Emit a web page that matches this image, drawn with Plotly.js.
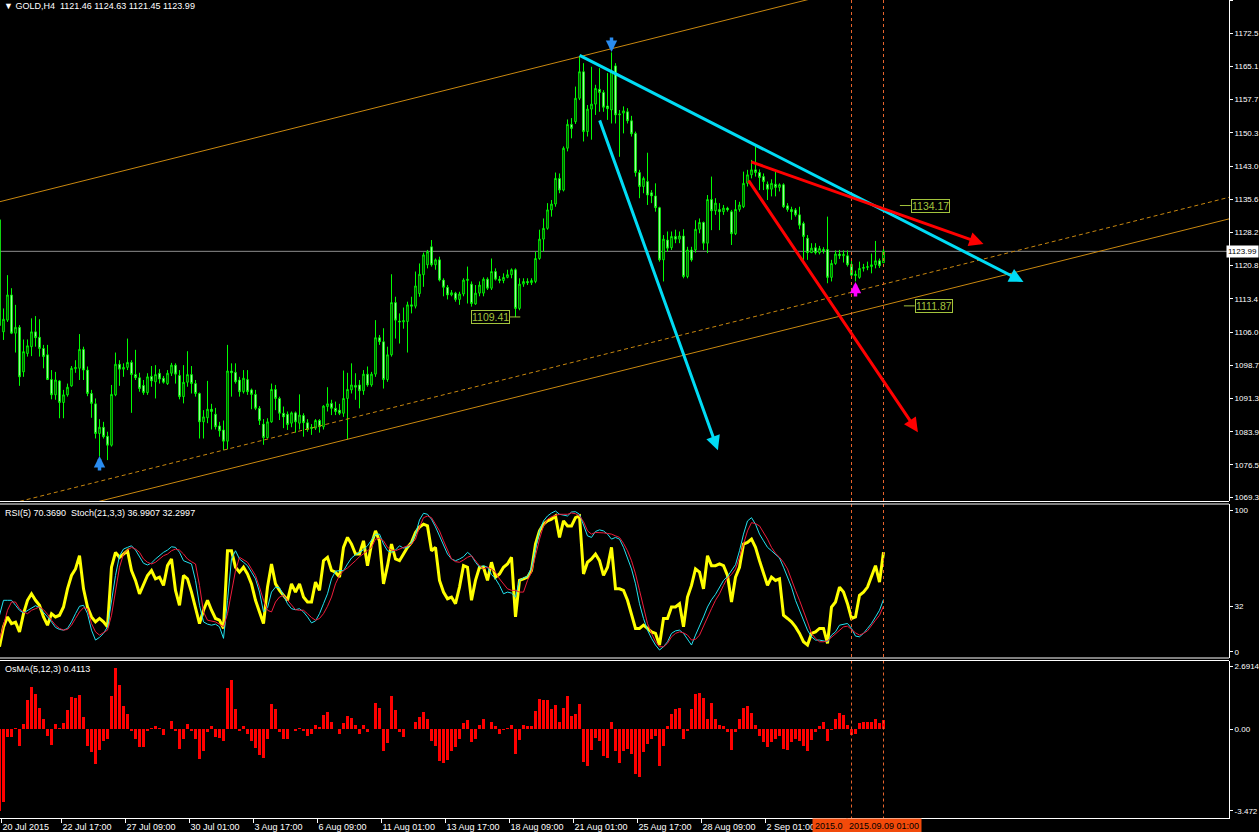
<!DOCTYPE html>
<html><head><meta charset="utf-8">
<script src="https://cdn.plot.ly/plotly-3.0.1.min.js"></script>
<style>html,body{margin:0;padding:0;background:#000;overflow:hidden}#chart{width:1259px;height:832px}</style>
</head><body><div id="chart"></div>
<script>
// ---------------- DATA ----------------
const open = [
1131.0,1106.1,1108.7,1114.3,1105.8,1107.1,1097.2,1101.3,1102.8,1106.1,
1104.9,1102.4,1101.0,1095.5,1092.1,1095.2,1090.4,1092.1,1094.1,1097.9,
1098.0,1102.2,1097.6,1092.4,1090.1,1083.5,1084.9,1082.9,1080.9,1092.1,
1098.9,1097.8,1098.2,1099.3,1096.6,1095.9,1094.2,1092.6,1096.2,1095.0,
1096.9,1095.8,1094.6,1096.9,1098.7,1096.4,1091.7,1094.9,1096.6,1094.6,
1092.4,1086.1,1087.0,1088.9,1087.8,1085.2,1084.3,1081.8,1097.4,1097.1,
1095.4,1092.8,1095.5,1093.2,1092.2,1089.1,1085.6,1082.6,1086.1,1093.3,
1091.3,1088.0,1087.8,1085.8,1088.1,1085.8,1087.5,1085.9,1084.6,1084.7,
1086.4,1085.0,1089.5,1090.2,1089.1,1088.7,1088.0,1091.3,1093.2,1094.2,
1094.3,1093.0,1096.7,1094.3,1096.7,1104.8,1103.9,1095.5,1101.0,1112.6,
1108.5,1108.3,1108.4,1112.1,1111.8,1114.6,1118.8,1121.0,1125.0,1121.0,
1122.1,1117.6,1116.0,1114.3,1114.7,1113.3,1114.5,1117.5,1116.7,1112.3,
1114.7,1114.7,1117.8,1115.8,1119.5,1117.8,1117.5,1118.2,1118.8,1119.9,
1111.3,1116.7,1117.3,1117.0,1117.3,1122.4,1126.7,1129.1,1133.2,1134.5,
1140.2,1137.6,1146.9,1152.2,1152.8,1158.0,1163.9,1150.6,1155.6,1156.7,
1160.0,1159.3,1156.3,1155.4,1165.2,1154.3,1154.7,1155.0,1153.0,1150.2,
1141.5,1138.4,1139.5,1137.0,1136.3,1133.7,1122.1,1126.5,1124.8,1127.3,
1126.7,1127.4,1118.4,1124.3,1124.3,1128.9,1130.4,1125.8,1135.5,1133.0,
1133.3,1132.8,1133.6,1132.8,1127.9,1133.3,1133.9,1139.1,1141.0,1142.1,
1141.5,1140.6,1138.9,1137.8,1138.9,1138.2,1138.8,1134.1,1133.3,1133.2,
1132.1,1130.2,1126.9,1123.7,1124.8,1123.7,1124.4,1124.4,1118.2,1121.3,
1123.4,1123.0,1123.0,1121.1,1118.6,1118.2,1120.2,1120.4,1120.6,1121.0,
1121.9,1121.46];
const high = [
1134.0,1111.3,1118.7,1115.8,1112.1,1107.6,1104.4,1104.4,1109.1,1109.6,
1108.9,1103.2,1103.2,1097.6,1097.2,1095.4,1093.2,1094.6,1098.5,1099.8,
1105.6,1102.8,1098.4,1093.2,1091.3,1086.7,1086.1,1083.9,1094.3,1101.5,
1099.8,1099.1,1104.6,1099.8,1102.1,1097.0,1095.4,1096.9,1098.5,1098.7,
1097.8,1096.3,1097.6,1099.2,1099.1,1097.6,1098.7,1101.8,1098.5,1095.4,
1092.6,1088.7,1095.2,1090.1,1089.2,1086.1,1086.4,1103.2,1099.1,1099.1,
1096.1,1097.6,1097.6,1093.5,1093.2,1089.6,1086.7,1086.9,1094.6,1094.3,
1091.7,1089.5,1088.4,1088.4,1088.4,1092.2,1088.0,1086.7,1085.6,1086.7,
1086.7,1089.8,1093.8,1091.0,1090.6,1090.1,1097.5,1097.0,1099.1,1096.9,
1095.4,1097.6,1098.4,1097.2,1108.7,1105.4,1106.9,1102.8,1118.9,1113.9,
1110.2,1111.5,1112.8,1113.9,1119.5,1121.3,1123.7,1124.3,1126.5,1122.4,
1122.8,1118.0,1116.5,1115.4,1115.0,1115.0,1118.0,1120.6,1117.3,1116.5,
1117.3,1118.2,1118.2,1122.4,1120.2,1118.5,1119.1,1119.9,1120.2,1120.2,
1118.0,1118.0,1118.0,1118.0,1123.9,1128.8,1131.3,1134.7,1135.4,1141.5,
1141.3,1147.3,1153.3,1153.6,1160.6,1167.4,1165.8,1156.5,1165.0,1161.0,
1164.7,1159.8,1163.6,1168.2,1165.8,1155.4,1156.2,1155.8,1154.1,1150.6,
1142.1,1140.6,1145.9,1137.6,1139.1,1133.9,1127.6,1128.4,1128.4,1128.8,
1128.4,1128.9,1125.0,1125.0,1130.9,1131.3,1130.6,1136.5,1140.6,1135.8,
1134.7,1134.3,1133.9,1133.2,1135.4,1135.0,1141.7,1142.1,1144.3,1147.3,
1142.2,1141.3,1139.5,1140.0,1141.7,1139.1,1139.1,1134.7,1133.9,1133.6,
1133.9,1130.6,1127.6,1125.8,1125.8,1125.2,1124.9,1131.7,1122.1,1124.2,
1124.3,1124.2,1124.2,1121.9,1119.7,1121.7,1121.2,1121.7,1123.5,1126.3,
1122.4,1124.63];
const low = [
1105.5,1104.3,1108.3,1105.6,1101.5,1094.1,1096.1,1100.6,1100.7,1102.8,
1100.6,1098.0,1095.4,1091.1,1091.0,1086.9,1086.9,1091.7,1093.9,1097.0,
1095.4,1095.4,1091.8,1087.0,1082.4,1078.4,1082.4,1077.6,1080.6,1091.8,
1094.1,1096.1,1097.6,1088.1,1095.4,1092.8,1092.1,1092.1,1093.9,1091.3,
1094.6,1094.6,1094.3,1096.3,1094.6,1091.1,1090.2,1093.9,1092.4,1091.7,
1082.4,1082.4,1085.8,1084.4,1084.4,1082.8,1079.8,1080.0,1091.7,1094.6,
1091.7,1092.4,1092.1,1088.9,1088.7,1085.4,1081.0,1082.4,1085.9,1088.7,
1086.5,1084.7,1084.3,1084.9,1083.7,1084.4,1082.8,1083.9,1083.2,1084.3,
1083.7,1084.4,1088.4,1087.6,1087.6,1087.6,1087.2,1082.2,1092.4,1091.0,
1089.1,1092.1,1093.9,1093.9,1096.1,1103.2,1093.5,1095.0,1100.6,1104.6,
1103.5,1106.8,1101.5,1110.2,1111.3,1113.9,1116.1,1120.2,1120.6,1119.9,
1117.3,1114.0,1113.3,1114.0,1112.8,1112.1,1114.0,1112.4,1111.7,1112.1,
1114.0,1114.0,1115.4,1115.4,1117.5,1116.9,1116.9,1118.0,1118.0,1109.4,
1110.9,1116.1,1116.5,1116.5,1116.9,1122.1,1123.9,1128.8,1131.7,1133.9,
1136.9,1137.3,1146.2,1149.1,1152.3,1157.6,1148.4,1149.5,1148.8,1154.3,
1155.0,1155.0,1153.2,1152.4,1152.4,1145.0,1150.2,1152.4,1149.5,1140.6,
1135.8,1136.9,1134.3,1134.7,1132.8,1121.7,1117.3,1123.9,1124.3,1125.8,
1125.8,1118.0,1118.0,1121.7,1123.7,1128.0,1124.3,1123.6,1128.7,1132.1,
1128.7,1132.1,1132.8,1125.4,1127.6,1132.8,1133.6,1138.4,1140.2,1140.6,
1137.6,1137.6,1135.4,1136.2,1136.2,1137.3,1133.6,1132.8,1131.0,1131.7,
1128.9,1122.1,1122.1,1123.6,1123.3,1123.3,1123.5,1116.9,1117.3,1121.0,
1122.3,1121.5,1120.6,1118.4,1117.3,1117.9,1119.5,1119.8,1119.1,1120.2,
1120.3,1121.45];
const close = [
1107.5,1108.9,1114.3,1105.8,1107.1,1096.1,1101.7,1103.0,1106.1,1104.8,
1102.4,1100.6,1095.5,1092.1,1095.4,1090.4,1092.1,1093.8,1098.0,1098.2,
1102.2,1097.6,1092.4,1090.2,1083.5,1084.9,1082.8,1080.9,1092.2,1098.9,
1097.8,1098.2,1099.3,1096.6,1095.9,1093.5,1092.6,1096.1,1095.2,1096.6,
1095.6,1094.9,1096.9,1098.7,1096.7,1091.7,1094.9,1096.6,1094.6,1092.4,
1086.1,1087.2,1088.9,1088.4,1085.0,1084.1,1081.8,1097.4,1097.0,1095.0,
1092.8,1095.8,1092.8,1092.2,1089.1,1086.4,1082.6,1086.1,1093.3,1091.3,
1088.0,1087.2,1085.5,1088.1,1086.1,1087.6,1085.9,1084.4,1084.9,1086.4,
1085.0,1089.6,1090.1,1089.1,1088.4,1088.0,1091.3,1093.3,1094.3,1093.8,
1093.0,1096.7,1094.3,1096.7,1104.8,1103.9,1095.5,1101.0,1112.6,1108.7,
1108.3,1108.6,1112.1,1111.8,1116.3,1118.9,1123.2,1123.9,1121.0,1122.1,
1117.6,1116.0,1114.3,1114.8,1113.3,1114.5,1117.6,1117.8,1112.4,1114.7,
1116.5,1117.8,1115.8,1119.5,1117.8,1117.5,1118.2,1118.8,1119.9,1111.3,
1116.7,1117.3,1117.0,1117.5,1122.4,1126.7,1129.1,1133.2,1134.5,1140.2,
1137.6,1146.9,1152.2,1151.3,1158.0,1163.9,1150.6,1155.6,1156.7,1160.2,
1159.3,1156.0,1155.7,1164.1,1154.3,1154.5,1155.2,1153.0,1150.1,1141.5,
1138.4,1140.2,1136.5,1136.3,1133.7,1122.1,1126.7,1124.7,1127.3,1126.7,
1127.4,1118.4,1124.3,1122.1,1128.9,1130.4,1125.8,1135.5,1133.0,1134.7,
1132.8,1133.6,1133.2,1127.9,1133.3,1134.3,1139.1,1141.0,1142.1,1141.5,
1140.4,1139.5,1137.8,1139.1,1138.2,1138.8,1133.9,1133.3,1132.8,1132.1,
1129.8,1127.3,1123.7,1124.7,1123.7,1124.6,1124.1,1118.2,1121.3,1123.4,
1123.0,1123.3,1121.0,1118.7,1118.9,1120.2,1120.4,1120.6,1121.0,1121.9,
1120.8,1123.99];

const rsi = [
3.7,17.7,24.7,20,21,14.2,27,36.4,41,36.4,
32.9,24.7,18.9,27,24.7,25.9,31.7,44.5,53.9,58.5,
67.8,44.5,31.7,24.7,21.2,23.6,21.2,17.7,59.7,70.2,
66.7,69,71.3,57.4,50.4,41,48,53.9,57.4,51.5,
52.7,46.9,60.8,65.5,43.4,32.9,53.9,51.5,42.2,31.7,
20,29.4,36.4,29.4,23.6,22.4,16.6,71.3,71.3,59.7,
56.2,59.7,55,48,36.4,28.2,20,45.7,62,48,
43.4,39.9,36.4,48,42.2,48,38.7,35.2,35.2,49.2,
43.4,64.3,66.7,57.4,56.2,52.7,73.7,80.7,76,69,
69,78.3,60.8,76,85.3,78.3,48,60.8,76,65.5,
64.3,69,73.7,77.2,84.2,88,90,88.8,71.3,73.7,
50.4,42.2,37.5,38.7,34,45.7,60.8,59.7,36.4,50.4,
59.7,59.7,50.4,63.2,52.7,55,59.7,62,66.7,24.7,
50.4,51.5,52.7,57.4,76,85.3,90,92.3,93.5,95.8,
80.7,92.3,88.8,88.8,94.6,95.8,55,63.2,65.5,69,
64.3,53.9,59.7,73.7,44.5,44.5,43.4,36.4,27,16.6,
16.6,18.9,16.6,14.2,13.1,4.9,23.6,23.6,31.7,31.7,
34,17.7,38.7,46.9,58.5,56.2,44.5,67.8,60.8,60.8,
62,60.8,53.9,35.2,52.7,59.7,76,77.2,79.5,73.7,
64.3,56.2,46.9,52.7,50.4,51.5,25.9,23.6,21.2,17.7,
13.1,7.2,4.9,13.1,14.2,16.6,16.6,6.1,31.7,35.2,
45.7,42.2,34,23.6,24.7,39.9,42.2,45.7,53.9,60.8,
49.2,70.369];

const stochMain = [
25.9,36.4,36.4,36.4,32.9,29.4,27.5,29.4,31.2,32.6,
31.2,28.2,24.7,21.2,17.3,15.9,15.4,16.6,21.2,27,
32.2,32.9,27,15.4,8.4,10.3,13.1,17.7,36.4,53.9,
67.8,72.5,73.7,74.8,71.8,66.7,62.5,61.3,62.7,65.5,
67.8,70.2,71.8,74.1,73.7,70.2,64.3,63.2,62,50.4,
32.9,21.2,19.6,18.9,19.6,17.7,9.6,36.4,65.5,71.3,
65.5,63.2,60.8,56.2,51.5,42.2,28.2,31.2,42.2,45.7,
45.2,39.9,34,30.5,29.8,30.5,28.2,24.7,20.5,21.9,
27,34,41,51.5,56.9,57.3,57.3,62,66.2,68.5,
70.2,72,74.8,78.8,83,83,76,71.3,70.2,71.8,
74.8,73.2,73.7,77.2,83,93,97.7,97,93.5,88.1,
81.8,74.8,69,65.5,64.3,65.5,67.1,70.2,67.8,63.2,
59.7,60.8,59.7,54.6,51.5,46.9,41,42.2,41.5,38.7,
50.4,52.2,53.2,59.7,73.7,85.3,92.3,95.8,97.9,99.3,
97,96.3,95.8,98.6,98.8,97,90,81.8,80.7,84.9,
86,85.3,83,79.5,80.7,79.5,73.7,66.7,58.5,48,
34,23.6,15.4,9.6,4.9,1.4,3.7,7.2,13.1,14.9,
15.4,13.1,8.9,4.9,11.9,17.7,24.7,31.7,36.8,40.6,
45.2,50.4,53.2,57.3,61.5,71.3,83,92.3,94.6,90,
83,78.3,73.7,71.3,68.5,66.2,59.7,52.7,45.7,36.4,
29.4,22.4,15.4,10.7,8.4,8.4,7.7,7.2,11.9,14.2,
18.9,19.6,20.1,16.6,11.2,10.7,13.1,16.6,20.1,24.7,
29.4,36.9907];

const stochSignal = [
8.4,20,29.4,35.2,35.2,30.5,28.2,27,29.4,30.5,
31.7,29.8,26.6,22.4,18.9,16.6,15.4,15.9,18.9,23.6,
28.2,31.2,30.5,20,14.2,11.9,13.5,15.4,25.9,43.4,
59.7,69,71.8,73.7,72.5,70.2,65.5,63.2,62,63.2,
65.5,67.8,69,71.3,72.5,71.8,69,65.5,63.6,62,
46.9,28.2,22.4,21.9,21.2,19.6,17.7,27,43.4,57.3,
66.7,64.8,63.2,58.5,53.9,45.7,36.4,29.4,28.2,35.2,
38.7,39.9,36.4,32.9,29.8,29.4,29.4,27,24.3,22.4,
23.6,27,32.2,38.7,48,53.9,57.3,59.2,61.5,64.3,
67.1,69,71.3,73.7,79.5,80.2,78.3,73.7,71.8,71.3,
72.5,73.7,75.3,76,79.5,88,94.6,95.8,94.6,90,
85.3,78.3,71.3,65.5,63.6,63.2,64.8,66.7,67.8,64.3,
60.8,58.5,59.7,58.5,56.2,51.5,47.6,44.5,43.4,43.4,
42.2,42.2,50.4,56.2,67.8,79.5,88.8,93.5,95.3,96.3,
97,97,97,97.9,97.4,95.8,91.8,85.3,83,84.2,
84.2,83.9,83.5,83,81.8,80.7,76.5,71.3,64.3,55,
43.4,30.5,20,13.1,7.2,3.7,3.7,6.1,10.7,13.1,
14.2,13.5,11.9,8.4,8.9,11.9,17.7,23.6,30.5,36.4,
41,46.9,52.2,54.6,58.5,66.7,76.5,85.3,91.1,90.4,
88.8,84.2,79.5,73.7,69.5,66.7,63.2,58.5,50.4,43.4,
36.4,29.4,21.2,13.1,9.6,7.2,7.2,7.9,10.3,13.1,
15.4,17.7,18.2,15.9,13.5,11.9,13.1,14.9,18.9,22.4,
25.9,32.2997];

const osma = [
-3.47,-3.08,-0.33,-0.33,0.06,-0.72,0.22,1.26,1.79,1.52,
0.9,0.43,-0.29,-0.65,0.22,0.06,0.27,0.82,1.39,1.32,
1.45,0.53,-0.69,-0.96,-1.46,-0.88,-0.48,-0.41,1.4,2.6,
1.87,1.0,0.65,-0.09,-0.41,-0.74,-0.77,-0.09,0.06,0.14,
0.06,-0.26,0.03,0.36,-0.09,-0.85,-0.41,0.22,-0.09,-0.41,
-1.25,-0.91,-0.12,0.14,-0.33,-0.38,-0.48,1.77,2.08,0.87,
-0.09,0.13,-0.22,-0.49,-0.8,-1.09,-1.23,-0.41,1.07,0.87,
-0.12,-0.41,-0.43,0.02,-0.06,0.07,-0.06,-0.29,-0.22,0.2,
0.1,0.6,0.75,0.29,0.03,-0.22,0.25,0.56,0.49,0.17,
-0.22,0.2,-0.12,0.03,1.14,0.9,-0.94,-0.59,1.43,0.82,
-0.12,-0.33,0.02,0.03,0.32,0.53,0.75,0.46,-0.48,-0.69,
-1.35,-1.43,-1.32,-0.91,-0.74,-0.41,0.27,0.38,-0.56,-0.41,
0.2,0.42,0.03,0.33,0.16,-0.19,-0.04,0.07,0.2,-1.06,
-0.45,0.2,0.16,0.13,0.77,1.29,1.24,1.24,0.85,1.03,
0.29,0.9,1.42,0.55,0.64,1.07,-1.4,-1.58,-0.88,-0.35,
-0.49,-1.14,-1.23,0.33,-0.93,-1.43,-0.93,-0.84,-1.06,-1.92,
-2.01,-0.97,-0.62,-0.41,-0.3,-1.58,-0.69,0.12,0.67,0.85,
0.9,-0.41,-0.06,0.85,1.5,1.55,1.32,0.46,1.11,0.42,
0.2,0.12,-0.13,-0.88,-0.13,0.42,0.9,0.98,0.68,0.2,
-0.27,-0.54,-0.75,-0.54,-0.41,-0.27,-0.84,-0.88,-0.56,-0.41,
-0.48,-0.71,-0.91,-0.45,-0.13,0.16,0.33,-0.48,-0.04,0.42,
0.68,0.59,0.2,-0.23,-0.19,0.25,0.33,0.33,0.33,0.42,
0.25,0.4113];

// time axis labels (bar index -> label); the last tick sits under the time-line labels
const timeTickBars = [0,15,31,47,63,79,95,111,127,143,159,175,191,207];
const timeTickLabels = ['20 Jul 2015','22 Jul 17:00','27 Jul 09:00','30 Jul 01:00','3 Aug 17:00','6 Aug 09:00','11 Aug 01:00','13 Aug 17:00','18 Aug 09:00','21 Aug 01:00','25 Aug 17:00','28 Aug 09:00','2 Sep 01:00',''];
const priceTicks = [1069.30,1076.53,1083.91,1091.29,1098.67,1106.05,1113.43,1120.81,1128.19,1135.57,1142.95,1150.33,1157.71,1165.09,1172.47,1179.80];
const rsiTicks = [0,32,100];
const osmaTicks = [-3.472,0,2.6914];
const osmaTickText = ['-3.472','0.00','2.6914'];

// drawn objects (bar index, price)
const upperLineBars = [0,260], upperLinePrices = [1135.0,1192.8];
const midLineBars = [0,307.4], midLinePrices = [1067.3,1136.0];
const lowLineBars = [0,307.4], lowLinePrices = [1062.9,1131.2];
const cyanArrowStart = [[144.9,1167.6],[150.0,1153.2]];
const cyanArrowEnd = [[256.0,1117.2],[179.6,1079.8]];
const redArrowStart = [[187.8,1143.9],[187.2,1139.8]];
const redArrowEnd = [[246.0,1125.6],[229.6,1083.8]];
const signalBars = [25,153,214];
const signalPrices = [1078.5,1168.3,1117.2];
const signalDirs = ['up','down','up'];
const priceLabelValues = [1134.17,1111.87,1109.41];
const vlineBars = [213,221];
const vlineLabels = ['2015.0','2015.09.09 01:00'];   // first one is mostly hidden behind the second

// ---------------- LAYOUT ----------------
const W = 1259, H = 832, PR = 1229;
const py = p => 1 - p / H;
const barAtPx = p => (p + 0.5) / 4;
const FONT = 'Liberation Sans, Arial, sans-serif';
const n = close.length;
const bars = close.map((_, i) => i);
const xr = [0.125, 307.375];
const ORANGE = '#c8870f';

const traces = [
  {type:'scatter', mode:'lines', x:upperLineBars, y:upperLinePrices, line:{color:ORANGE,width:1}, hoverinfo:'skip'},
  {type:'scatter', mode:'lines', x:midLineBars, y:midLinePrices, line:{color:ORANGE,width:1,dash:'4px,3px'}, hoverinfo:'skip'},
  {type:'scatter', mode:'lines', x:lowLineBars, y:lowLinePrices, line:{color:ORANGE,width:1}, hoverinfo:'skip'},
  {type:'candlestick', x:bars, open:open, high:high, low:low, close:close, whiskerwidth:0,
   increasing:{line:{color:'#00ff00',width:1}, fillcolor:'#000000'},
   decreasing:{line:{color:'#00ff00',width:1}, fillcolor:'#ffffff'}, hoverinfo:'skip'},
  {type:'scatter', mode:'lines', x:bars, y:rsi, yaxis:'y2', line:{color:'#ffff00',width:3}, hoverinfo:'skip'},
  {type:'scatter', mode:'lines', x:bars, y:stochMain, yaxis:'y2', line:{color:'#22e2f0',width:1}, hoverinfo:'skip'},
  {type:'scatter', mode:'lines', x:bars, y:stochSignal, yaxis:'y2', line:{color:'#ee1c3c',width:1}, hoverinfo:'skip'},
  {type:'bar', x:bars, y:osma, yaxis:'y3', width:0.7, marker:{color:'#ff0000', line:{width:0}}, hoverinfo:'skip'}
];

const tickFont = {family:FONT, size:9, color:'#ffffff'};
const axFont = {family:FONT, size:8, color:'#ffffff'};
const shapes = [];
// bid line
shapes.push({type:'line', xref:'x', yref:'y', x0:xr[0], x1:xr[1], y0:close[n-1], y1:close[n-1], line:{color:'#8c8c8c',width:1}, layer:'below'});
// vertical dashed lines in each pane
vlineBars.forEach(b => {
  [[0,501],[504,658],[660.5,818]].forEach(([a,c]) => {
    shapes.push({type:'line', xref:'x', yref:'paper', x0:b, x1:b, y0:py(a), y1:py(c), line:{color:'#e8642c',width:1,dash:'3px,3px'}});
  });
});
// pane separators
[501.5,504,658,660.5].forEach(p => shapes.push({type:'line', xref:'paper', yref:'paper', x0:0, x1:PR/W, y0:py(p), y1:py(p), line:{color:'#ffffff',width:1}}));
// price label leader lines
const LBL = '#a3c43c';
shapes.push({type:'line', xref:'x', yref:'y', x0:225.1, x1:227.8, y0:priceLabelValues[0], y1:priceLabelValues[0], line:{color:LBL,width:1}});
shapes.push({type:'line', xref:'x', yref:'y', x0:226.1, x1:228.8, y0:priceLabelValues[1], y1:priceLabelValues[1], line:{color:LBL,width:1}});
shapes.push({type:'line', xref:'x', yref:'y', x0:127.6, x1:130.2, y0:priceLabelValues[2], y1:priceLabelValues[2], line:{color:LBL,width:1}});

const annotations = [];
const ann = (o) => annotations.push(Object.assign({showarrow:false, font:{family:FONT,size:9,color:'#ffffff'}}, o));
ann({xref:'paper', yref:'paper', x:2/W, y:py(6), xanchor:'left', yanchor:'middle',
     text:'▼ GOLD,H4\u00a0\u00a0' + [open[n-1],high[n-1],low[n-1],close[n-1]].map(v=>v.toFixed(2)).join(' ')});
ann({xref:'paper', yref:'paper', x:3/W, y:py(513), xanchor:'left', yanchor:'middle',
     text:'RSI(5) ' + rsi[n-1].toFixed(4) + '\u00a0\u00a0Stoch(21,3,3) ' + stochMain[n-1].toFixed(4) + ' ' + stochSignal[n-1].toFixed(4)});
ann({xref:'paper', yref:'paper', x:3/W, y:py(669), xanchor:'left', yanchor:'middle',
     text:'OsMA(5,12,3) ' + osma[n-1].toFixed(4)});
// price labels
ann({xref:'x', yref:'y', x:227.8, y:priceLabelValues[0], xanchor:'left', yanchor:'middle', text:priceLabelValues[0].toFixed(2),
     font:{family:FONT,size:10.5,color:LBL}, bordercolor:LBL, borderwidth:1, borderpad:0, bgcolor:'#000'});
ann({xref:'x', yref:'y', x:228.8, y:priceLabelValues[1], xanchor:'left', yanchor:'middle', text:priceLabelValues[1].toFixed(2),
     font:{family:FONT,size:10.5,color:LBL}, bordercolor:LBL, borderwidth:1, borderpad:0, bgcolor:'#000'});
ann({xref:'x', yref:'y', x:127.6, y:priceLabelValues[2], xanchor:'right', yanchor:'middle', text:priceLabelValues[2].toFixed(2),
     font:{family:FONT,size:10.5,color:LBL}, bordercolor:LBL, borderwidth:1, borderpad:0, bgcolor:'#000'});
// trend arrows
const arrow = (s, e, color) => annotations.push({xref:'x', yref:'y', axref:'x', ayref:'y', x:e[0], y:e[1], ax:s[0], ay:s[1],
  text:'', font:{size:1}, borderpad:0, showarrow:true, arrowhead:2, arrowsize:0.95, arrowwidth:3, arrowcolor:color, standoff:0, startstandoff:0});
cyanArrowStart.forEach((s,i) => arrow(s, cyanArrowEnd[i], '#00dcf5'));
redArrowStart.forEach((s,i) => arrow(s, redArrowEnd[i], '#ff0000'));
// signal arrows
signalBars.forEach((b,i) => annotations.push({xref:'x', yref:'y', x:b, y:signalPrices[i], ax:0, ay: signalDirs[i]==='up' ? 15 : -15,
  text:'', font:{size:1}, borderpad:0, showarrow:true, arrowhead:2, arrowsize:0.65, arrowwidth:3.5,
  arrowcolor: i===2 ? '#ff00ff' : '#2a8cf0', standoff:0, startstandoff:0}));
// bid label on axis
ann({xref:'paper', yref:'y', x:1, y:close[n-1], xanchor:'right', yanchor:'middle', text:close[n-1].toFixed(2),
     bgcolor:'#ffffff', font:{family:FONT,size:8,color:'#000000'}, borderpad:1});
// vertical line time labels: second centred on its line, first shows only its visible start
const TL = '#f24a0a';
ann({xref:'x', yref:'paper', x:barAtPx(812), y:py(826), xanchor:'left', yanchor:'middle', text:vlineLabels[0],
     bgcolor:TL, font:{family:FONT,size:9,color:'#000000'}, borderpad:2, width:30, align:'left'});
ann({xref:'x', yref:'paper', x:vlineBars[1], y:py(826), xanchor:'center', yanchor:'middle', text:vlineLabels[1],
     bgcolor:TL, font:{family:FONT,size:9,color:'#000000'}, borderpad:2});

const yBase = {side:'right', anchor:'x', showgrid:false, zeroline:false, showline:true, linecolor:'#fff',
               ticks:'outside', ticklen:3, tickcolor:'#fff', tickfont:axFont, fixedrange:true};
const layout = {
  width:W, height:H, margin:{l:0,r:0,t:0,b:0}, paper_bgcolor:'#000', plot_bgcolor:'#000',
  showlegend:false, hovermode:false, boxgap:0.45, bargap:0,
  xaxis:{domain:[0,PR/W], range:xr, anchor:'y3', showgrid:false, zeroline:false, showline:true, linecolor:'#fff', linewidth:1,
         ticks:'outside', ticklen:4, tickcolor:'#fff', tickvals:timeTickBars.map(b=>b+0.5), ticktext:timeTickLabels,
         ticklabelposition:'outside right', tickfont:tickFont, rangeslider:{visible:false}, fixedrange:true},
  yaxis:Object.assign({domain:[py(501),1], range:[1068.51,1179.84],
         tickvals:priceTicks, ticktext:priceTicks.map(v=>v.toFixed(1))}, yBase),
  yaxis2:Object.assign({domain:[py(658),py(504)], range:[-4.23,104.23],
         tickvals:rsiTicks, ticktext:rsiTicks.map(String)}, yBase),
  yaxis3:Object.assign({domain:[py(818),py(660.5)], range:[-3.774,2.928],
         tickvals:osmaTicks, ticktext:osmaTickText}, yBase),
  shapes:shapes, annotations:annotations
};
Plotly.newPlot('chart', traces, layout, {staticPlot:true, displayModeBar:false});
</script></body></html>
